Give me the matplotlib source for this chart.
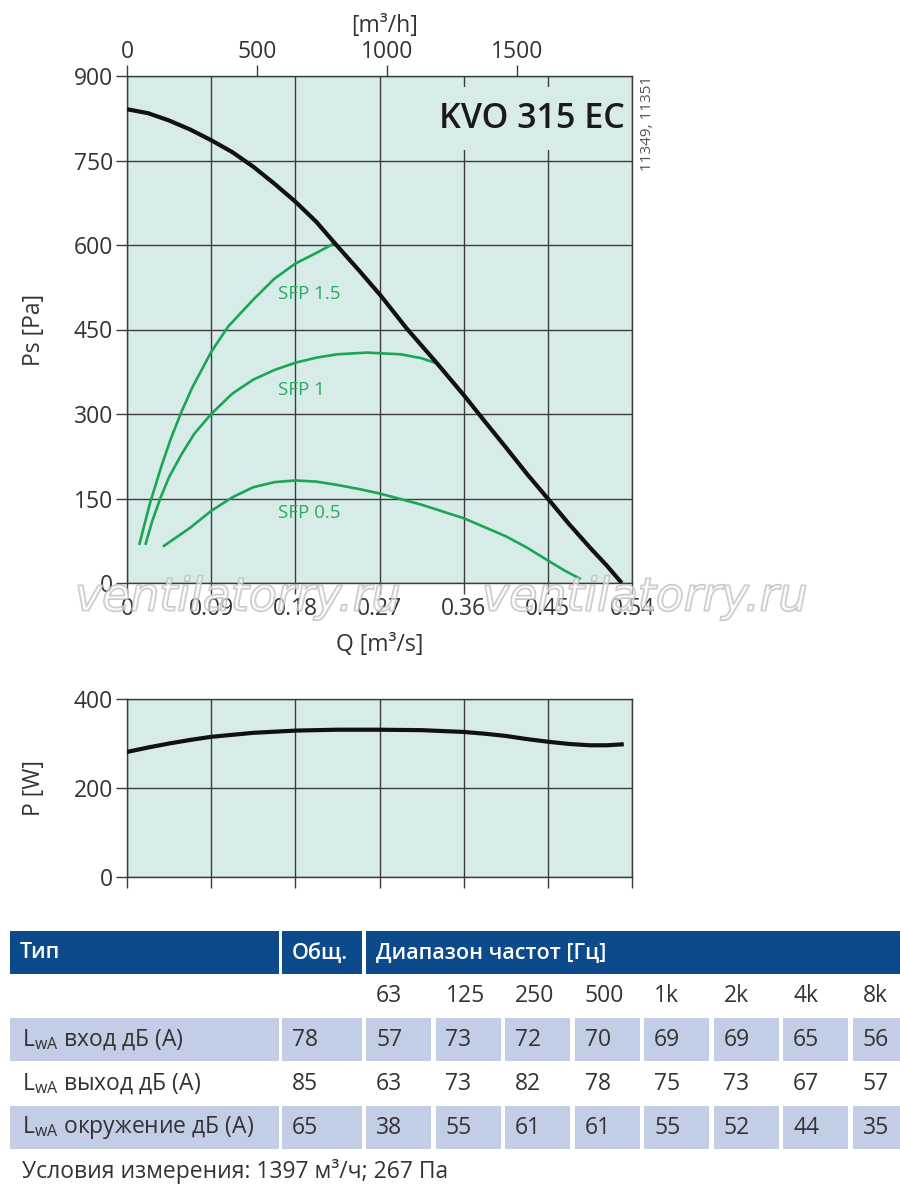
import matplotlib
matplotlib.use("Agg")
import matplotlib.pyplot as plt
from matplotlib.patches import Rectangle
import matplotlib.patheffects as pe

plt.rcParams['font.family'] = ['Open Sans', 'DejaVu Sans']

# ---------------- data ----------------
fan_q = [0, 0.0225, 0.045, 0.0675, 0.09, 0.1125, 0.135, 0.1575, 0.18, 0.2025, 0.2228, 0.2475,
         0.2714, 0.299, 0.331, 0.3614, 0.3825, 0.405, 0.4275, 0.4514, 0.4725, 0.495, 0.513, 0.529]
fan_ps = [841, 834, 821, 805, 786, 765, 739, 709, 677, 641, 602, 556,
          510, 452, 391, 331, 287, 241, 194, 147, 105, 63, 31, 0]

sfp15_q = [0.0135, 0.0162, 0.0248, 0.0369, 0.0473, 0.0585, 0.0698, 0.09, 0.108, 0.135,
           0.1575, 0.18, 0.2025, 0.2228]
sfp15_ps = [70, 88, 143, 208, 258, 305, 347, 410, 455, 503, 540, 567, 586, 604]

sfp1_q = [0.02, 0.027, 0.036, 0.045, 0.0585, 0.072, 0.09, 0.1125, 0.135, 0.1575, 0.18, 0.2025,
          0.225, 0.2565, 0.2925, 0.315, 0.331]
sfp1_ps = [70, 110, 152, 188, 229, 265, 300, 336, 361, 378, 391, 400, 406, 409, 406, 399, 390]

sfp05_q = [0.0396, 0.0675, 0.09, 0.1125, 0.135, 0.1575, 0.18, 0.2025, 0.225, 0.2475, 0.27,
           0.2925, 0.315, 0.3375, 0.36, 0.3825, 0.405, 0.4275, 0.45, 0.468, 0.484]
sfp05_ps = [66, 98, 128, 152, 170, 179, 182, 180, 174, 167, 159,
            149, 139, 127, 115, 99, 83, 63, 40, 22, 8]

power_q = [0, 0.0225, 0.045, 0.0675, 0.09, 0.135, 0.18, 0.225, 0.27, 0.315, 0.36, 0.3825,
           0.405, 0.4275, 0.45, 0.4725, 0.495, 0.513, 0.529]
power_w = [281, 291, 300, 308, 315, 324, 329, 331, 331, 330, 326, 322,
           317, 310, 304, 299, 296, 296, 298]

q_ticks = [0, 0.09, 0.18, 0.27, 0.36, 0.45, 0.54]
q_tick_labels = ['0', '0.09', '0.18', '0.27', '0.36', '0.45', '0.54']
ps_ticks = [0, 150, 300, 450, 600, 750, 900]
p_ticks = [0, 200, 400]
m3h_ticks = [0, 500, 1000, 1500]

sfp_labels = ['SFP 1.5', 'SFP 1', 'SFP 0.5']
sfp_label_pos = [(0.162, 513), (0.162, 342), (0.162, 125)]

title = 'KVO 315 EC'
code_text = '11349, 11351'
watermark = 'ventilatorry.ru'

freq_labels = ['63', '125', '250', '500', '1k', '2k', '4k', '8k']
row_names = [r'L$_{\mathregular{wA}}$ вход дБ (A)', r'L$_{\mathregular{wA}}$ выход дБ (A)',
             r'L$_{\mathregular{wA}}$ окружение дБ (A)']
row_total = [78, 85, 65]
row_inlet = [57, 73, 72, 70, 69, 69, 65, 56]
row_outlet = [63, 73, 82, 78, 75, 73, 67, 57]
row_surround = [38, 55, 61, 61, 55, 52, 44, 35]
header = ['Тип', 'Общ.', 'Диапазон частот [Гц]']
footnote = 'Условия измерения: 1397 м³/ч; 267 Па'

# ---------------- style ----------------
BG = '#d7ece9'
GRID = '#3c3c3c'
TXT = '#333333'
GREEN = '#1ca553'
GREEN_TXT = '#2aaa62'
HEAD = '#0c4a8b'
ROW = '#c2cde6'
FS = 16.5

W, H = 900, 1196
fig = plt.figure(figsize=(W / 100, H / 100), dpi=100)


def px_axes(l, t, r, b):
    return fig.add_axes([l / W, 1 - b / H, (r - l) / W, (b - t) / H])


def style_axes(ax, yticks, ylim):
    ax.set_facecolor(BG)
    ax.set_xlim(0, 0.54)
    ax.set_ylim(*ylim)
    ax.set_xticks(q_ticks)
    ax.set_yticks(yticks)
    ax.grid(True, color=GRID, lw=1.0, zorder=1)
    ax.set_axisbelow(True)
    for s in ax.spines.values():
        s.set_color(GRID)
        s.set_linewidth(1.0)
    ax.tick_params(direction='out', length=8, width=1.0, color=GRID,
                   labelsize=FS, labelcolor=TXT, pad=2)


# ---------- top chart ----------
ax = px_axes(127, 76, 632, 583)
style_axes(ax, ps_ticks, (0, 900))
ax.set_xticklabels(q_tick_labels)
ax.set_ylabel('Ps [Pa]', fontsize=FS, color=TXT, labelpad=20)
ax.set_xlabel('Q [m³/s]', fontsize=FS, color=TXT, labelpad=9)

# title box hiding grid
ax.add_patch(Rectangle((0.333, 768), 0.203, 113, facecolor=BG, edgecolor='none', zorder=2))
ax.text(0.532, 824, title, ha='right', va='center', fontsize=24.5, fontweight='semibold',
        color='#1a1a1a', zorder=5)

ax.plot(sfp15_q, sfp15_ps, color=GREEN, lw=1.9, zorder=3)
ax.plot(sfp1_q, sfp1_ps, color=GREEN, lw=1.9, zorder=3)
ax.plot(sfp05_q, sfp05_ps, color=GREEN, lw=1.9, zorder=3)
ax.plot(fan_q, fan_ps, color='#111111', lw=3.0, zorder=4, solid_capstyle='butt')
for lab, (x, y) in zip(sfp_labels, sfp_label_pos):
    ax.text(x, y, lab, color=GREEN_TXT, fontsize=13.5, ha='left', va='center', zorder=5)

ax.text(1.03, 1.0, code_text, transform=ax.transAxes, rotation=90, ha='center', va='top',
        fontsize=11, color='#555555')

# top axis in m3/h
ax2 = ax.twiny()
ax2.set_xlim(0, 0.54 * 3600)
ax2.set_xticks(m3h_ticks)
ax2.tick_params(direction='out', length=8, width=1.0, color=GRID,
                labelsize=FS, labelcolor=TXT, pad=1)
for s in ax2.spines.values():
    s.set_visible(False)
ax2.text(0.51, 1.075, '[m³/h]', transform=ax.transAxes, ha='center', va='bottom',
         fontsize=FS, color=TXT)

# ---------- power chart ----------
axp = px_axes(127, 699, 632, 877)
style_axes(axp, p_ticks, (0, 400))
axp.set_xticklabels([])
axp.set_ylabel('P [W]', fontsize=FS, color=TXT, labelpad=20)
axp.plot(power_q, power_w, color='#111111', lw=3.0, zorder=4)

# ---------- table ----------
tb = fig.add_axes([0, 0, 1, 1])
tb.set_xlim(0, W)
tb.set_ylim(H, 0)
tb.axis('off')

col_x = [10, 282, 366]
col_r = [279, 362, 900]
cell_x = [366 + i * 69.5 for i in range(8)]
row_tops = [1018, 1062, 1106]
row_h = 43

# header
for l, r, t in zip(col_x, col_r, header):
    tb.add_patch(Rectangle((l, 931), r - l, 43, facecolor=HEAD, edgecolor='none'))
    tb.text(l + 10, 953, t, color='white', fontsize=15.5, fontweight='semibold',
            ha='left', va='center')

# frequency labels
for x, f in zip(cell_x, freq_labels):
    tb.text(x + 10, 996, f, color=TXT, fontsize=FS, ha='left', va='center')

rows = [row_inlet, row_outlet, row_surround]
for i, (name, tot, vals, top) in enumerate(zip(row_names, row_total, rows, row_tops)):
    if i != 1:
        tb.add_patch(Rectangle((10, top), 269, row_h, facecolor=ROW, edgecolor='none'))
        tb.add_patch(Rectangle((282, top), 80, row_h, facecolor=ROW, edgecolor='none'))
        for x in cell_x:
            tb.add_patch(Rectangle((x, top), min(65, W - x), row_h, facecolor=ROW, edgecolor='none'))
    yc = top + row_h / 2
    tb.text(22, yc, name, color=TXT, fontsize=FS, ha='left', va='center')
    tb.text(292, yc, str(tot), color=TXT, fontsize=FS, ha='left', va='center')
    for x, v in zip(cell_x, vals):
        tb.text(x + 10, yc, str(v), color=TXT, fontsize=FS, ha='left', va='center')

tb.text(22, 1171, footnote, color=TXT, fontsize=FS, ha='left', va='center')

# watermark (hollow outlined text)
for wx in (75, 482):
    tb.text(wx, 598, watermark, fontsize=33, style='italic', family='DejaVu Sans',
            color=(1, 1, 1, 0.35), ha='left', va='center', zorder=10,
            path_effects=[pe.Stroke(linewidth=1.4, foreground=(0.72, 0.72, 0.72, 0.8)), pe.Normal()])

fig.savefig('out.png', dpi=100)
